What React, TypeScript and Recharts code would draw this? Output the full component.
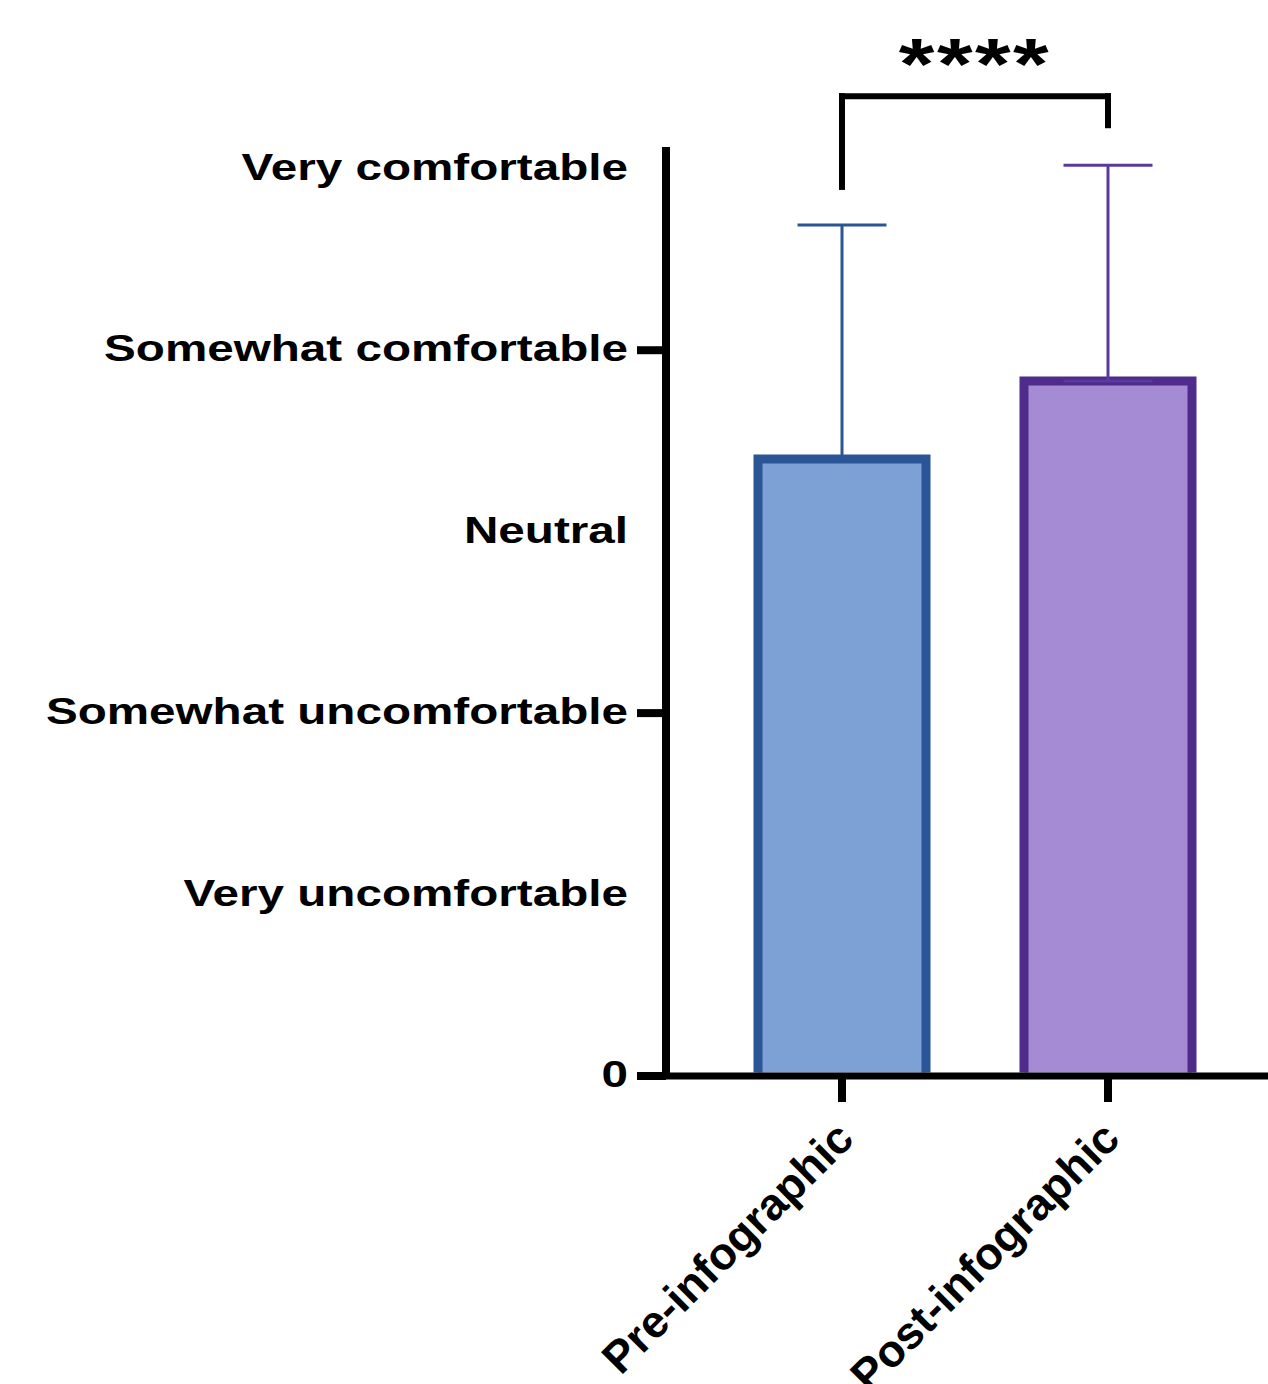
import React from "react";
import { BarChart, Bar, XAxis, YAxis, ErrorBar, ReferenceLine } from "recharts";

const CATEGORIES = ["Pre-infographic", "Post-infographic"];
const MEANS = [3.4, 3.83];
const SDS = [1.29, 1.19];
const FILLS = ["#7DA1D4", "#A58BD3"];
const STROKES = ["#2A5596", "#4F2B8C"];
const ERROR_STROKES = ["#2B5597", "#5A3A9E"];

const Y_TICKS = [0, 1, 2, 3, 4, 5];
const Y_LABELS = ["0", "Very uncomfortable", "Somewhat uncomfortable", "Neutral", "Somewhat comfortable", "Very comfortable"];
const MARKED_TICKS = [0, 2, 4];

const SIGNIFICANCE = "****";
const BRACKET_TOP = 5.4;
const BRACKET_LEFT_END = 4.9;
const BRACKET_RIGHT_END = 5.24;

const FONT = "'Liberation Sans', Arial, sans-serif";
const STRETCH = 1.27;

// one key per group so each bar/error bar gets its own colour
const data = CATEGORIES.map((name, i) => ({
  name,
  [`v${i}`]: MEANS[i],
  [`e${i}`]: [0, SDS[i]],
}));

function StretchedText({ x, y, children, fontSize, anchor = "end", dy = 0, spacing = 0 }: any) {
  return (
    <g transform={`translate(${x},${y})`}>
      <text
        transform={`scale(${STRETCH},1)`}
        textAnchor={anchor}
        dy={dy}
        fontSize={fontSize}
        fontWeight={700}
        fontFamily={FONT}
        letterSpacing={spacing}
        fill="#000"
      >
        {children}
      </text>
    </g>
  );
}

function YTick({ x, y, payload }: any) {
  const v = payload.value;
  return (
    <g>
      {MARKED_TICKS.includes(v) && <line x1={x + 9} x2={x + 38} y1={y} y2={y} stroke="#000" strokeWidth={8} />}
      <StretchedText x={x} y={y} fontSize={37.5} dy="0.3em">
        {Y_LABELS[v]}
      </StretchedText>
    </g>
  );
}

function XTick({ x, y, payload }: any) {
  return (
    <g transform={`translate(${x + 14},${y + 39})`}>
      <text transform="rotate(-45)" textAnchor="end" fontSize={45} fontWeight={700} fontFamily={FONT} fill="#000">
        {payload.value}
      </text>
    </g>
  );
}

function OutlinedBar(props: any) {
  const { x, y, width, height, fill, stroke } = props;
  if (!height || height <= 0) return null;
  const bottom = y + height - 3.5;
  return (
    <g>
      <rect x={x} y={y} width={width} height={bottom - y} fill={fill} />
      <path
        d={`M${x},${bottom} L${x},${y} L${x + width},${y} L${x + width},${bottom}`}
        fill="none"
        stroke={stroke}
        strokeWidth={9}
      />
    </g>
  );
}

function Stars({ viewBox }: any) {
  if (!viewBox) return null;
  return (
    <StretchedText x={viewBox.x + viewBox.width / 2} y={viewBox.y} fontSize={72} anchor="middle" spacing={2} dy={-7}>
      {SIGNIFICANCE}
    </StretchedText>
  );
}

export default function App() {
  return (
    <div style={{ position: "absolute", left: 0, top: 0, background: "#fff" }}>
      <BarChart width={1268} height={1384} data={data} margin={{ top: 147, right: 0, bottom: 8, left: 0 }}>
        <XAxis
          dataKey="name"
          padding={{ left: 43, right: 27 }}
          axisLine={{ stroke: "#000", strokeWidth: 7 }}
          tickLine={{ stroke: "#000", strokeWidth: 8 }}
          tickSize={26}
          tickMargin={0}
          height={300}
          tick={<XTick />}
          interval={0}
        />
        <YAxis
          type="number"
          domain={[0, 5.12]}
          ticks={Y_TICKS}
          width={666}
          axisLine={{ stroke: "#000", strokeWidth: 8 }}
          tickLine={false}
          tickSize={29}
          tickMargin={9}
          tick={<YTick />}
          interval={0}
        />
        {CATEGORIES.map((c, i) => (
          <Bar
            key={c}
            dataKey={`v${i}`}
            stackId="a"
            barSize={168}
            isAnimationActive={false}
            shape={(p: any) => <OutlinedBar {...p} fill={FILLS[i]} stroke={STROKES[i]} />}
          >
            <ErrorBar dataKey={`e${i}`} width={44.5} strokeWidth={3} stroke={ERROR_STROKES[i]} direction="y" />
          </Bar>
        ))}
        <ReferenceLine
          segment={[{ x: CATEGORIES[0], y: BRACKET_LEFT_END }, { x: CATEGORIES[0], y: BRACKET_TOP }]}
          stroke="#000"
          strokeWidth={6}
          strokeLinecap="square"
          ifOverflow="visible"
        />
        <ReferenceLine
          segment={[{ x: CATEGORIES[0], y: BRACKET_TOP }, { x: CATEGORIES[1], y: BRACKET_TOP }]}
          stroke="#000"
          strokeWidth={6}
          strokeLinecap="square"
          ifOverflow="visible"
          label={<Stars />}
        />
        <ReferenceLine
          segment={[{ x: CATEGORIES[1], y: BRACKET_TOP }, { x: CATEGORIES[1], y: BRACKET_RIGHT_END }]}
          stroke="#000"
          strokeWidth={6}
          strokeLinecap="square"
          ifOverflow="visible"
        />
      </BarChart>
    </div>
  );
}
